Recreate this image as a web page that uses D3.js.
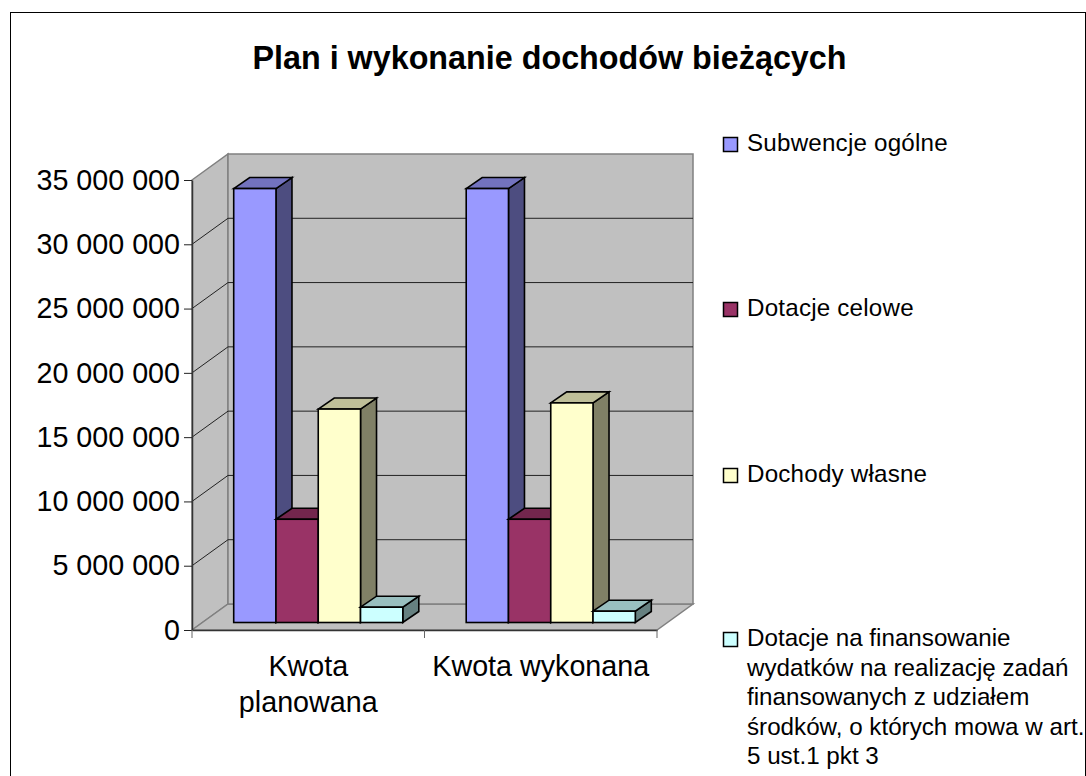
<!DOCTYPE html>
<html>
<head>
<meta charset="utf-8">
<style>
body { margin: 0; background: #fff; overflow: hidden; }
svg { display: block; }
text { font-family: "Liberation Sans", Arial, sans-serif; fill: #000; }
</style>
<script src="https://cdn.jsdelivr.net/npm/d3@7"></script>
</head>
<body>
<div id="chart"></div>
<script>
// Values
const categories = ["Kwota planowana", "Kwota wykonana"];
const seriesNames = ["Subwencje ogólne", "Dotacje celowe", "Dochody własne", "Dotacje na finansowanie"];
const subwencje = [33750000, 33750000];
const dotacjeCelowe = [8030000, 8030000];
const dochodyWlasne = [16600000, 17080000];
const dotacjeFinans = [1190000, 880000];
const seriesValues = [subwencje, dotacjeCelowe, dochodyWlasne, dotacjeFinans];
const seriesColors = ["#9999ff", "#993366", "#ffffcc", "#ccffff"];
const yTicks = [0, 5000000, 10000000, 15000000, 20000000, 25000000, 30000000, 35000000];
const categoryLines = [["Kwota", "planowana"], ["Kwota wykonana"]];
const legendLines = [
    ["Subwencje ogólne"],
    ["Dotacje celowe"],
    ["Dochody własne"],
    ["Dotacje na finansowanie", "wydatków na realizację zadań", "finansowanych z udziałem", "środków, o których mowa w art.", "5 ust.1 pkt 3"]
];

const width = 1086, height = 776;
const plotLeft = 192, plotRight = 657, plotTop = 180, plotBottom = 630;
const depthX = 36, depthY = -26;      // wall offset
const barDepthX = 16, barDepthY = -11; // depth of one bar

const svg = d3.select("#chart").append("svg")
    .attr("width", width)
    .attr("height", height);

// outer frame, its bottom edge is cut off by the picture
svg.append("rect")
    .attr("x", 10.5).attr("y", 12.5)
    .attr("width", 1075).attr("height", 800)
    .attr("fill", "#fff").attr("stroke", "#000");

svg.append("text")
    .attr("x", 549.5).attr("y", 69)
    .attr("text-anchor", "middle")
    .attr("font-size", 32.3)
    .attr("font-weight", "bold")
    .text("Plan i wykonanie dochodów bieżących");

const y = d3.scaleLinear().domain([0, 35000000]).range([plotBottom, plotTop]);
const x = d3.scaleBand().domain(categories).range([plotLeft, plotRight]);
const barX = d3.scaleBand().domain(d3.range(seriesNames.length))
    .range([0, x.bandwidth()]).paddingOuter(0.75).paddingInner(0);

const poly = pts => "M" + pts.map(p => p.join(",")).join("L") + "Z";

// walls and floor
const wallColor = "#c0c0c0", wallEdge = "#808080";
const walls = [
    [[plotLeft, plotTop], [plotLeft + depthX, plotTop + depthY], [plotLeft + depthX, plotBottom + depthY], [plotLeft, plotBottom]],
    [[plotLeft, plotBottom], [plotLeft + depthX, plotBottom + depthY], [plotRight + depthX, plotBottom + depthY], [plotRight, plotBottom]],
    [[plotLeft + depthX, plotTop + depthY], [plotRight + depthX, plotTop + depthY], [plotRight + depthX, plotBottom + depthY], [plotLeft + depthX, plotBottom + depthY]]
];
svg.append("g").selectAll("path").data(walls).join("path")
    .attr("d", poly)
    .attr("fill", wallColor)
    .attr("stroke", wallEdge)
    .attr("stroke-width", 1.5);

// gridlines, along the side wall then the back wall
svg.append("g").selectAll("path").data(yTicks.slice(1, -1)).join("path")
    .attr("d", d => `M${plotLeft},${y(d)}L${plotLeft + depthX},${y(d) + depthY}L${plotRight + depthX},${y(d) + depthY}`)
    .attr("fill", "none")
    .attr("stroke", "#222")
    .attr("stroke-width", 1);

// bars, drawn left to right so each one covers the side of the one before
const offX = (depthX - barDepthX) / 2, offY = (depthY - barDepthY) / 2;
const shade = (c, k) => { const r = d3.rgb(c); return d3.rgb(r.r * k, r.g * k, r.b * k).formatHex(); };

const bars = [];
categories.forEach((cat, ci) => {
    seriesValues.forEach((vals, si) => {
        bars.push({ cat, si, value: vals[ci], color: seriesColors[si] });
    });
});

const barG = svg.append("g").selectAll("g").data(bars).join("g")
    .attr("stroke", "#000")
    .attr("stroke-width", 1.6)
    .attr("stroke-linejoin", "miter");

const bx0 = d => x(d.cat) + barX(d.si) + offX;
const bx1 = d => bx0(d) + barX.bandwidth();
const by0 = () => plotBottom + offY;
const by1 = d => y(d.value) + offY;

barG.append("path") // right side
    .attr("d", d => poly([[bx1(d), by1(d)], [bx1(d) + barDepthX, by1(d) + barDepthY], [bx1(d) + barDepthX, by0() + barDepthY], [bx1(d), by0()]]))
    .attr("fill", d => shade(d.color, 0.5));
barG.append("path") // top
    .attr("d", d => poly([[bx0(d), by1(d)], [bx0(d) + barDepthX, by1(d) + barDepthY], [bx1(d) + barDepthX, by1(d) + barDepthY], [bx1(d), by1(d)]]))
    .attr("fill", d => shade(d.color, 0.75));
barG.append("rect") // front
    .attr("x", bx0)
    .attr("y", by1)
    .attr("width", barX.bandwidth())
    .attr("height", d => by0() - by1(d))
    .attr("fill", d => d.color);

// y axis
const yAxis = svg.append("g")
    .attr("transform", `translate(${plotLeft},0)`)
    .call(d3.axisLeft(y)
        .tickValues(yTicks)
        .tickSize(8)
        .tickSizeOuter(0)
        .tickPadding(4)
        .tickFormat(d => d3.format(",")(d).replace(/,/g, " ")));
yAxis.select(".domain").attr("stroke", "#333").attr("stroke-width", 1.5);
yAxis.selectAll(".tick line").attr("stroke", "#222");
yAxis.selectAll("text")
    .attr("font-size", 28.7)
    .attr("font-family", "Liberation Sans")
    .attr("fill", "#000");

// x axis: ticks between the groups, labels centred under them
const xAxis = svg.append("g")
    .attr("transform", `translate(0,${plotBottom})`)
    .call(d3.axisBottom(x).tickSize(0).tickFormat(""));
xAxis.select(".domain").attr("stroke", "#333").attr("stroke-width", 1.5);
xAxis.selectAll(".boundary").data(d3.range(categories.length + 1)).join("line")
    .attr("class", "boundary")
    .attr("x1", i => plotLeft + i * x.step()).attr("x2", i => plotLeft + i * x.step())
    .attr("y1", 0).attr("y2", 8)
    .attr("stroke", "#666");

const catLabel = svg.append("g").selectAll("text").data(categories).join("text")
    .attr("text-anchor", "middle")
    .attr("font-size", 28.7);
catLabel.selectAll("tspan").data((d, i) => categoryLines[i].map(line => ({ line, c: d }))).join("tspan")
    .attr("x", d => x(d.c) + x.bandwidth() / 2)
    .attr("y", (d, i) => 676 + i * 36)
    .text(d => d.line);

// legend
const legendY = [137, 302, 468, 632];
const legend = svg.append("g").selectAll("g").data(seriesNames).join("g")
    .attr("transform", (d, i) => `translate(723,${legendY[i]})`);
legend.append("rect")
    .attr("x", 0.5).attr("y", 0.5)
    .attr("width", 14).attr("height", 14)
    .attr("fill", (d, i) => seriesColors[i])
    .attr("stroke", "#000")
    .attr("stroke-width", 1.5);
legend.each(function (d, i) {
    d3.select(this).selectAll("text").data(legendLines[i]).join("text")
        .attr("x", 24)
        .attr("y", (t, j) => 14 + j * 29.5)
        .attr("font-size", 24.2)
        .attr("letter-spacing", i < 3 ? 0.2 : 0)
        .text(t => t);
});
</script>
</body>
</html>
